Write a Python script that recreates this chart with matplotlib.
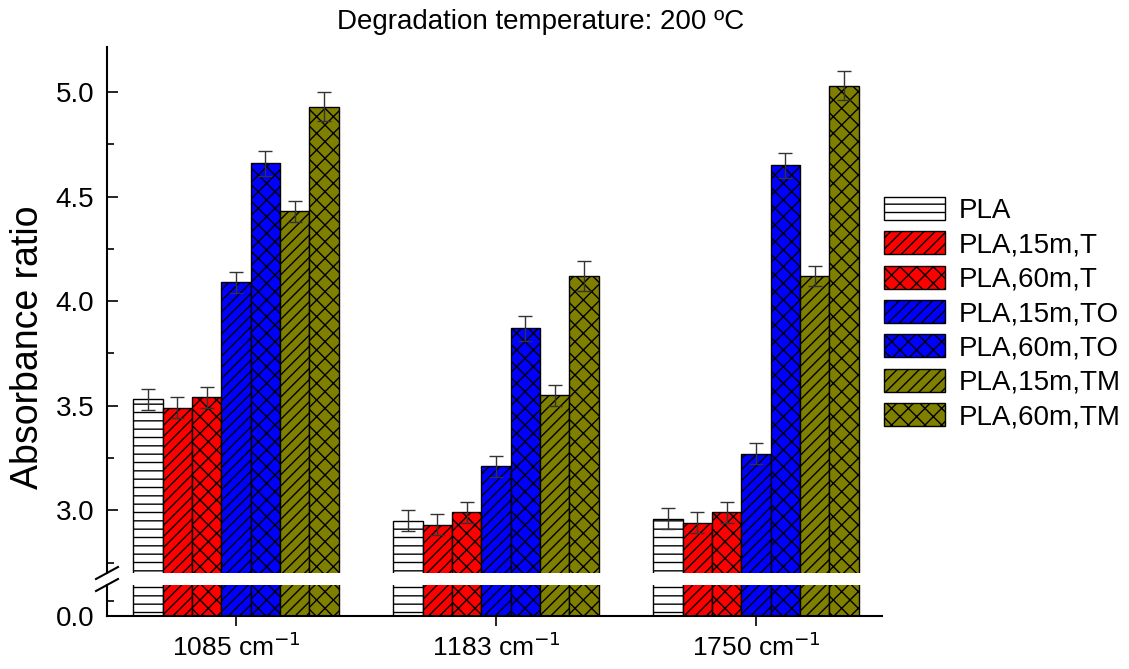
import matplotlib
matplotlib.use("Agg")
import matplotlib.pyplot as plt
import numpy as np
from matplotlib.lines import Line2D
from matplotlib.ticker import FixedLocator, FormatStrFormatter

plt.rcParams['font.family'] = ['Liberation Sans', 'DejaVu Sans']
plt.rcParams['hatch.color'] = 'black'
plt.rcParams['hatch.linewidth'] = 1.0

categories = ['1085 cm$^{-1}$', '1183 cm$^{-1}$', '1750 cm$^{-1}$']
series = ['PLA', 'PLA,15m,T', 'PLA,60m,T', 'PLA,15m,TO', 'PLA,60m,TO', 'PLA,15m,TM', 'PLA,60m,TM']
pla      = [3.53, 2.95, 2.96]
pla15t   = [3.49, 2.93, 2.94]
pla60t   = [3.54, 2.99, 2.99]
pla15to  = [4.09, 3.21, 3.27]
pla60to  = [4.66, 3.87, 4.65]
pla15tm  = [4.43, 3.55, 4.12]
pla60tm  = [4.93, 4.12, 5.03]
err_pla     = [0.05, 0.05, 0.05]
err_pla15t  = [0.05, 0.05, 0.05]
err_pla60t  = [0.05, 0.05, 0.05]
err_pla15to = [0.05, 0.05, 0.05]
err_pla60to = [0.06, 0.06, 0.06]
err_pla15tm = [0.05, 0.05, 0.05]
err_pla60tm = [0.07, 0.07, 0.07]

values = [pla, pla15t, pla60t, pla15to, pla60to, pla15tm, pla60tm]
errors = [err_pla, err_pla15t, err_pla60t, err_pla15to, err_pla60to, err_pla15tm, err_pla60tm]
colors = ['white', '#ff0000', '#ff0000', '#0000ff', '#0000ff', '#808000', '#808000']
hatches = ['--', '///', 'xx', '///', 'xx', '///', 'xx']

W, H = 1129, 669
fig = plt.figure(figsize=(W / 100, H / 100), dpi=100)

L, R = 107, 882
top_up, bot_up = 47, 573
top_lo, bot_lo = 585, 616
ax = fig.add_axes([L / W, 1 - bot_up / H, (R - L) / W, (bot_up - top_up) / H])
axl = fig.add_axes([L / W, 1 - bot_lo / H, (R - L) / W, (bot_lo - top_lo) / H])

x = np.arange(1, len(categories) + 1)
w = 0.113
for i, (v, e, c, h, s) in enumerate(zip(values, errors, colors, hatches, series)):
    pos = x + (i - 3) * w
    ax.bar(pos, v, width=w, color=c, edgecolor='black', linewidth=1.0, hatch=h, label=s)
    ax.errorbar(pos, v, yerr=e, fmt='none', ecolor='#333333', elinewidth=1.0, capsize=5, capthick=1.0)
    axl.bar(pos, v, width=w, color=c, edgecolor='black', linewidth=1.0, hatch=h)

xlo = 1 - (236 - L) / 260.0
xhi = xlo + (R - L) / 260.0
for a in (ax, axl):
    a.set_xlim(xlo, xhi)
    a.spines['right'].set_visible(False)
    a.spines['top'].set_visible(False)
    for sp in a.spines.values():
        sp.set_linewidth(1.5)

ax.set_ylim(2.7, 5.215)
axl.set_ylim(0, 0.5)
ax.spines['bottom'].set_visible(False)
ax.tick_params(axis='x', bottom=False, labelbottom=False)
ax.yaxis.set_major_locator(FixedLocator([3.0, 3.5, 4.0, 4.5, 5.0]))
ax.yaxis.set_minor_locator(FixedLocator([2.75, 3.25, 3.75, 4.25, 4.75, 5.25]))
ax.yaxis.set_major_formatter(FormatStrFormatter('%.1f'))
axl.yaxis.set_major_locator(FixedLocator([0.0]))
axl.yaxis.set_minor_locator(FixedLocator([0.25]))
axl.yaxis.set_major_formatter(FormatStrFormatter('%.1f'))
for a in (ax, axl):
    a.tick_params(axis='y', which='major', direction='in', length=8, width=1.2, labelsize=20, pad=9)
    a.tick_params(axis='y', which='minor', direction='in', length=5, width=1.2)
axl.set_xticks(x)
axl.set_xticklabels(categories)
axl.tick_params(axis='x', direction='out', length=7, width=1.2, labelsize=19, pad=5)

ax.set_ylabel('Absorbance ratio', fontsize=27)
ax.yaxis.set_label_coords((46 - L) / (R - L), (bot_up - 347) / (bot_up - top_up))

# axis break marks
for yb in (bot_up, top_lo):
    fig.add_artist(Line2D([96 / W, 118 / W], [1 - (yb + 6) / H, 1 - (yb - 6) / H],
                          color='black', lw=1.5))

fig.text(541 / W, 1 - 22 / H, 'Degradation temperature: 200 ºC', ha='center', va='center', fontsize=20)

ax.legend(loc='upper left', bbox_to_anchor=(884 / W, 1 - 197 / H), bbox_transform=fig.transFigure,
          frameon=False, fontsize=20, handlelength=2.2, handleheight=0.9, labelspacing=0.26,
          handletextpad=0.5, borderpad=0, borderaxespad=0)

fig.savefig('out.png', dpi=100)
